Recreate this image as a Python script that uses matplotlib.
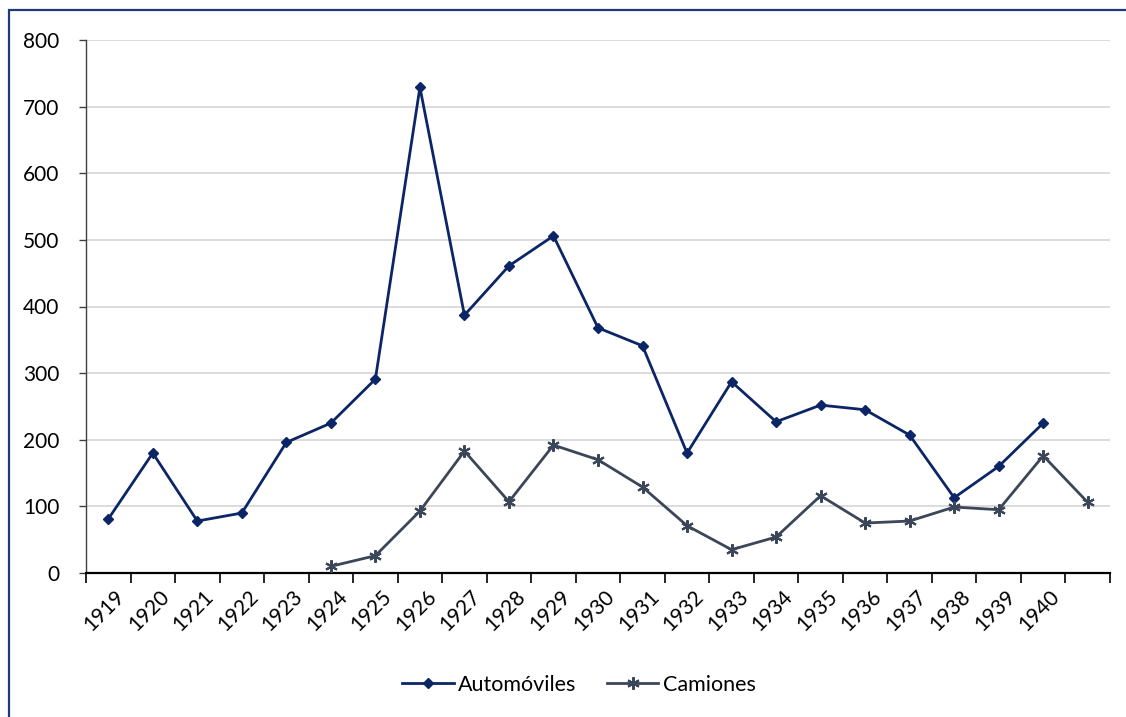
import matplotlib
matplotlib.use("Agg")
import matplotlib.pyplot as plt
from matplotlib.patches import Rectangle
import numpy as np

plt.rcParams['font.family'] = ['Lato', 'DejaVu Sans']

years = [str(y) for y in range(1919, 1941)]
n_categories = 23  # one extra, unlabeled slot at the end for the last Camiones value

automoviles = [81, 180, 78, 90, 196, 225, 291, 729, 387, 461, 506, 368, 341,
               180, 287, 227, 252, 245, 207, 113, 160, 225]
camiones_start = 5  # first Camiones value belongs to 1924
camiones = [10, 26, 93, 183, 107, 192, 170, 129, 71, 35, 54, 116, 75, 78,
            99, 95, 176, 106]

yticks = [0, 100, 200, 300, 400, 500, 600, 700, 800]

c_auto = '#0B2566'
c_cam = '#3B4658'

W, H = 1126, 717
fig = plt.figure(figsize=(W / 100, H / 100), dpi=100)
ax = fig.add_axes([86 / W, 1 - 573 / H, (1110 - 86) / W, (573 - 40) / H])

x_auto = np.arange(len(automoviles))
x_cam = np.arange(camiones_start, camiones_start + len(camiones))

ax.plot(x_auto, automoviles, color=c_auto, lw=2.0, marker='D', ms=5,
        label='Automóviles', zorder=3)
ax.plot(x_cam, camiones, color=c_cam, lw=2.0, marker=(6, 2, 0), ms=9,
        mew=1.5, label='Camiones', zorder=3)

ax.set_xlim(-0.5, n_categories - 0.5)
ax.set_ylim(0, 800)
ax.set_yticks(yticks)
ax.set_yticklabels([str(v) for v in yticks], fontsize=15)
ax.yaxis.grid(True, color='#D9D9D9', lw=1.3)
ax.set_axisbelow(True)

# category ticks sit on the boundaries between years
ax.set_xticks(np.arange(n_categories + 1) - 0.5)
ax.set_xticklabels([])
ax.tick_params(axis='x', length=7, width=1.2, color='black', direction='out')
ax.tick_params(axis='y', length=5, width=1.0, color='#404040', direction='out', pad=14)

for i, lab in enumerate(years):
    ax.annotate(lab, xy=(i + 0.3, 0), xycoords='data', xytext=(0, -15),
                textcoords='offset points', rotation=45, rotation_mode='anchor',
                ha='right', va='center', fontsize=15, annotation_clip=False)

for s in ['top', 'right']:
    ax.spines[s].set_visible(False)
ax.spines['left'].set_color('#404040')
ax.spines['left'].set_linewidth(1.0)
ax.spines['bottom'].set_color('black')
ax.spines['bottom'].set_linewidth(1.6)

leg = fig.legend(loc='center', bbox_to_anchor=(579 / W, 1 - 685 / H), ncol=2,
                 frameon=False, fontsize=15.5, handlelength=2.4,
                 columnspacing=1.4, handletextpad=0.2)

# chart frame
fig.add_artist(Rectangle((9 / W, -0.1), 1.2, 1 - 10 / H + 0.1,
                         transform=fig.transFigure, fill=False,
                         edgecolor='#1F3A78', lw=1.6))

fig.savefig('out.png', dpi=100, facecolor='white')
